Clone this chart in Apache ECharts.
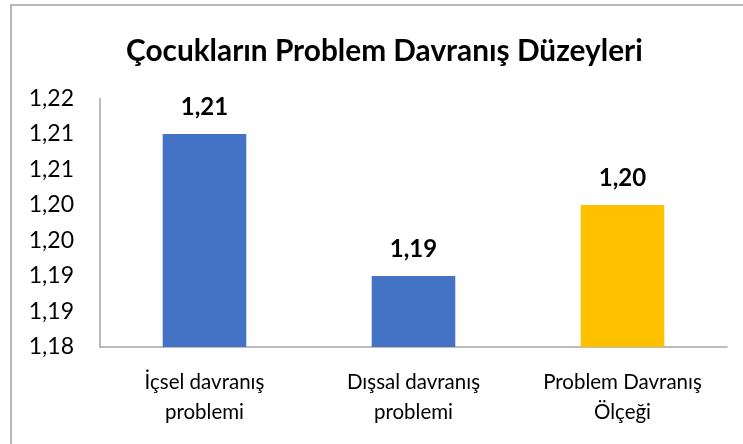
<!DOCTYPE html>
<html>
<head>
<meta charset="utf-8">
<script src="https://cdn.jsdelivr.net/npm/echarts@6/dist/echarts.min.js"></script>
<style>
html,body{margin:0;padding:0;background:#fff;}
#chart{width:743px;height:444px;}
</style>
</head>
<body>
<div id="chart"></div>
<script>
const titleText = 'Çocukların Problem Davranış Düzeyleri';
const categories = ['İçsel davranış\nproblemi', 'Dışsal davranış\nproblemi', 'Problem Davranış\nÖlçeği'];
const values = [1.21, 1.19, 1.20];
const barColors = ['#4472C4', '#4472C4', '#FFC000'];
const yMin = 1.18, yMax = 1.215, yStep = 0.005;

const fmt = v => (Math.round(v * 100 + 1e-6) / 100).toFixed(2).replace('.', ',');
const FONT = 'Lato';

const chart = echarts.init(document.getElementById('chart'), null, {renderer: 'canvas'});
chart.setOption({
  animation: false,
  backgroundColor: '#ffffff',
  title: {
    text: titleText,
    left: 121,
    top: 31,
    textStyle: {fontFamily: FONT, fontSize: 29.8, fontWeight: 'bold', color: '#000'}
  },
  graphic: [{
    type: 'rect',
    shape: {x: 11, y: 5, width: 800, height: 500},
    style: {fill: 'none', stroke: '#a0a0a0', lineWidth: 1.5},
    silent: true
  }],
  grid: {left: 100, right: 16, top: 98.5, bottom: 97, containLabel: false},
  xAxis: {
    type: 'category',
    data: categories,
    axisLine: {show: true, lineStyle: {color: '#a6a6a6', width: 1.5}},
    axisTick: {show: false},
    axisLabel: {fontFamily: FONT, fontSize: 20.5, color: '#000', lineHeight: 30, margin: 20, interval: 0}
  },
  yAxis: {
    type: 'value',
    min: yMin, max: yMax, interval: yStep,
    axisLine: {show: true, lineStyle: {color: '#a6a6a6', width: 1.5}},
    axisTick: {show: false},
    splitLine: {show: false},
    axisLabel: {fontFamily: FONT, fontSize: 23, color: '#000', margin: 26, formatter: fmt}
  },
  series: [{
    type: 'bar',
    barWidth: '40%',
    data: values.map((v, i) => ({value: v, itemStyle: {color: barColors[i]}})),
    label: {
      show: true, position: 'top', distance: 15,
      fontFamily: FONT, fontSize: 24, fontWeight: 'bold', color: '#000',
      formatter: p => fmt(p.value)
    }
  }]
});
</script>
</body>
</html>
